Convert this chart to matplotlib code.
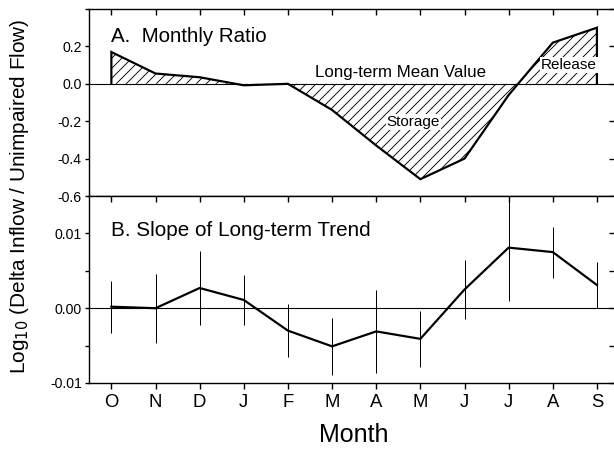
import matplotlib
matplotlib.use("Agg")
import matplotlib.pyplot as plt
from matplotlib.ticker import FixedLocator, FuncFormatter
import numpy as np

DPI = 120
W, H = 614, 449


def pt(px):
    """Convert a pixel size to points at the figure's dpi."""
    return px * 72.0 / DPI


plt.rcParams["font.family"] = ["Liberation Sans", "DejaVu Sans"]
plt.rcParams["axes.unicode_minus"] = False
plt.rcParams["hatch.linewidth"] = pt(0.9)

months = ["O", "N", "D", "J", "F", "M", "A", "M", "J", "J", "A", "S"]

# Panel A: monthly log ratio relative to the long-term mean
monthly_ratio = [0.17, 0.055, 0.035, -0.008, 0.0, -0.14, -0.33, -0.51,
                 -0.40, -0.06, 0.22, 0.30]

# Panel B: slope of the long-term trend with its uncertainty
trend_slope = [0.0002, 0.0000, 0.0027, 0.0011, -0.0030, -0.0051, -0.0031,
               -0.0041, 0.0025, 0.0081, 0.0075, 0.0031]
trend_err = [0.0035, 0.0046, 0.0050, 0.0034, 0.0035, 0.0038, 0.0055,
             0.0037, 0.0040, 0.0072, 0.0034, 0.0031]

x = np.arange(len(months))

fig = plt.figure(figsize=(W / DPI, H / DPI), dpi=DPI)
left = 89.3 / W
width = (619 - 89.3) / W
top_y0 = (H - 196) / H
top_h = (196 - 9) / H
bot_y0 = (H - 383) / H
bot_h = (383 - 196) / H
axA = fig.add_axes([left, top_y0, width, top_h])
axB = fig.add_axes([left, bot_y0, width, bot_h])

spine_lw = pt(1.4)
curve_lw = pt(2.2)
tick_fs = pt(14)
month_fs = pt(18.5)

for ax in (axA, axB):
    ax.set_xlim(-0.5, 11.5)
    for s in ax.spines.values():
        s.set_linewidth(spine_lw)
    ax.axhline(0, color="black", lw=pt(1.1), zorder=1)
    ax.set_xticks(x)
    ax.tick_params(axis="y", which="both", left=True, right=True,
                   labelleft=True, labelright=False, width=spine_lw,
                   labelsize=tick_fs, pad=pt(3))
    ax.tick_params(axis="y", which="major", direction="out", length=pt(4.5))

# ---- Panel A ----
xA = np.concatenate([[x[0]], x, [x[-1]]])
yA = np.concatenate([[0.0], monthly_ratio, [0.0]])
axA.fill_between(x, monthly_ratio, 0, facecolor="white", edgecolor="black",
                 hatch="////", linewidth=0, zorder=0)
axA.plot(xA, yA, color="black", lw=curve_lw, solid_joinstyle="miter", zorder=3)
axA.set_ylim(-0.6, 0.4)
axA.yaxis.set_major_locator(FixedLocator([-0.6, -0.4, -0.2, 0.0, 0.2, 0.4]))
axA.yaxis.set_major_formatter(
    FuncFormatter(lambda v, p: "" if v > 0.3 else f"{v:.1f}"))
axA.tick_params(axis="x", which="both", top=True, bottom=False,
                labelbottom=False, direction="in", length=pt(6), width=spine_lw)
# inward ticks on the right spine
for t in axA.yaxis.get_major_ticks():
    t.tick2line.set_marker(matplotlib.lines.TICKLEFT)
    t.tick2line.set_markersize(pt(10))

axA.text(0, 0.225, "A.  Monthly Ratio", fontsize=pt(20.5), ha="left",
         va="baseline")
axA.text(6.56, 0.036, "Long-term Mean Value", fontsize=pt(16.9), ha="center",
         va="baseline", zorder=4)
axA.text(6.84, -0.227, "Storage", fontsize=pt(15.3), ha="center",
         va="baseline", zorder=4,
         bbox=dict(facecolor="white", edgecolor="none", pad=0.6))
axA.text(10.36, 0.078, "Release", fontsize=pt(15.3), ha="center",
         va="baseline", zorder=4,
         bbox=dict(facecolor="white", edgecolor="none", pad=0.6))

# ---- Panel B ----
axB.errorbar(x, trend_slope, yerr=trend_err, color="black", lw=curve_lw,
             elinewidth=pt(1.0), capsize=0, zorder=3)
axB.set_ylim(-0.01, 0.015)
axB.yaxis.set_major_locator(FixedLocator([-0.01, 0.0, 0.01]))
axB.yaxis.set_minor_locator(FixedLocator([-0.005, 0.005]))
axB.yaxis.set_major_formatter(FuncFormatter(lambda v, p: f"{v:.2f}"))
axB.tick_params(axis="y", which="minor", direction="out", length=pt(4.5),
                width=spine_lw, left=True, right=True)
for t in axB.yaxis.get_major_ticks() + axB.yaxis.get_minor_ticks():
    t.tick2line.set_marker(matplotlib.lines.TICKLEFT)
    t.tick2line.set_markersize(pt(10))
axB.tick_params(axis="x", which="both", top=True, bottom=True,
                direction="out", length=pt(6), width=spine_lw,
                labelsize=month_fs, pad=pt(5))
for t in axB.xaxis.get_major_ticks():
    t.tick2line.set_marker(matplotlib.lines.TICKDOWN)
    t.tick2line.set_markersize(pt(6))
axB.set_xticklabels(months)
axB.set_xlabel("Month", fontsize=pt(25), labelpad=pt(12))

axB.text(0, 0.00964, "B. Slope of Long-term Trend", fontsize=pt(20.6),
         ha="left", va="baseline")

fig.text(20 / W, 1 - 196 / H, r"Log$_{10}$ (Delta Inflow / Unimpaired Flow)",
         rotation=90, ha="center", va="center", fontsize=pt(20.8))

fig.savefig("out.png", dpi=DPI)
